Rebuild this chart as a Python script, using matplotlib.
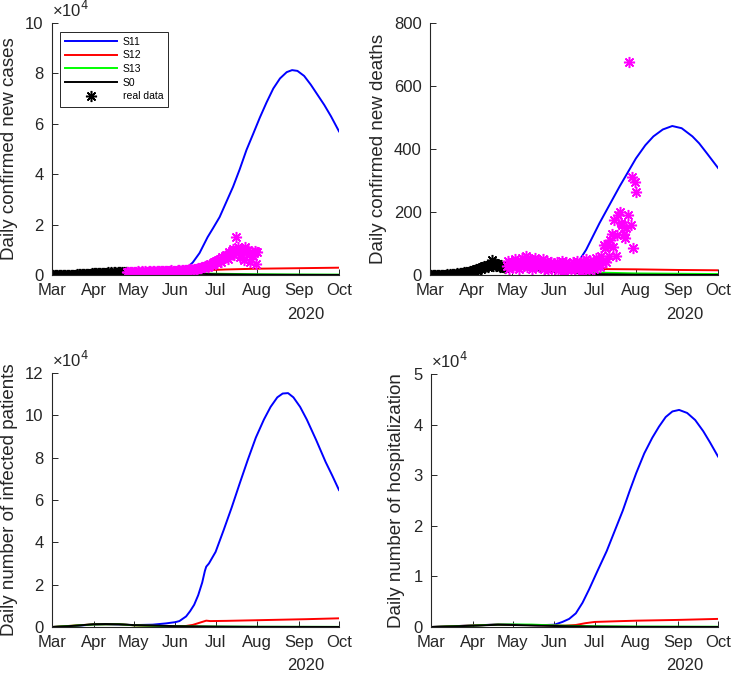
import numpy as np
import matplotlib
matplotlib.use("Agg")
import matplotlib.pyplot as plt
import matplotlib.dates as mdates
from matplotlib.ticker import FuncFormatter, MultipleLocator

plt.rcParams['font.family'] = ['Liberation Sans', 'DejaVu Sans']

START = np.datetime64('2020-03-01')
END = np.datetime64('2020-10-01')

# ---- model curves (days after 1 Mar 2020, value) ----
s11_cases_days = [0, 15, 31, 46, 61, 76, 92, 100, 105, 110, 116, 120, 125, 130, 135, 140,
                  145, 150, 155, 160, 165, 170, 175, 179, 183, 188, 193, 198, 203, 208, 214]
s11_cases = [0, 300, 700, 950, 1200, 1350, 1500, 2500, 5000, 8700, 15000, 18500, 23000, 29000,
             35000, 42000, 49600, 56000, 62500, 68500, 74000, 78000, 80500, 81300, 81000, 79000,
             75500, 71500, 67500, 63000, 57000]
s12_cases_days = [0, 31, 61, 92, 100, 108, 113, 120, 130, 153, 184, 214]
s12_cases = [0, 700, 1200, 1000, 800, 700, 1300, 2000, 2200, 2500, 2700, 2900]
s13_cases_days = [0, 31, 61, 92, 122, 153, 184, 214]
s13_cases = [0, 650, 1100, 900, 500, 300, 200, 150]
s0_cases_days = [0, 31, 61, 92, 122, 153, 184, 214]
s0_cases = [0, 700, 1000, 700, 300, 120, 60, 30]

s11_deaths_days = [0, 31, 46, 61, 92, 105, 111, 113, 116, 126, 141, 153, 160, 166, 173, 180,
                   187, 195, 200, 206, 214]
s11_deaths = [0, 10, 30, 35, 30, 35, 48, 60, 80, 165, 282, 370, 412, 440, 462, 473, 466, 440,
              418, 385, 340]
s12_deaths_days = [0, 31, 46, 61, 92, 122, 153, 184, 214]
s12_deaths = [0, 10, 30, 32, 25, 19, 18, 16, 15]
s13_deaths_days = [0, 31, 46, 61, 92, 122, 153, 214]
s13_deaths = [0, 9, 25, 25, 15, 8, 5, 3]
s0_deaths_days = [0, 31, 46, 61, 92, 122, 153, 214]
s0_deaths = [0, 9, 25, 22, 10, 3, 1, 0]

s11_inf_days = [0, 15, 31, 40, 50, 61, 75, 85, 92, 95, 100, 103, 106, 109, 112, 114, 115, 117,
                122, 128, 134, 140, 146, 152, 158, 163, 168, 172, 176, 180, 185, 190, 197, 204,
                209, 214]
s11_inf = [0, 400, 1200, 1300, 1150, 900, 1100, 1700, 2300, 2800, 5000, 7500, 10500, 15000,
           21000, 26500, 28500, 30000, 35500, 45800, 56500, 67900, 79000, 89500, 98000, 104000,
           108500, 110300, 110500, 108500, 104000, 98000, 88300, 78000, 71500, 64700]
s12_inf_days = [0, 31, 50, 61, 85, 95, 100, 105, 110, 115, 118, 130, 160, 190, 214]
s12_inf = [0, 1250, 1300, 800, 400, 400, 500, 1000, 2000, 3000, 2800, 2900, 3300, 3700, 4100]
s13_inf_days = [0, 31, 50, 61, 92, 122, 153, 214]
s13_inf = [0, 1200, 1300, 800, 350, 200, 120, 60]
s0_inf_days = [0, 15, 31, 40, 50, 61, 75, 92, 122, 153, 214]
s0_inf = [0, 500, 1300, 1400, 1300, 900, 700, 400, 200, 80, 20]

s11_hosp_days = [0, 31, 50, 61, 80, 92, 98, 103, 108, 113, 118, 124, 131, 137, 143, 148, 153,
                 159, 165, 170, 175, 180, 185, 191, 197, 203, 208, 214]
s11_hosp = [0, 300, 500, 450, 350, 450, 1000, 1600, 2700, 4800, 7500, 11000, 15000, 19000,
            23000, 26800, 30400, 34300, 37400, 39600, 41500, 42600, 42900, 42300, 40900, 38700,
            36500, 33700]
s12_hosp_days = [0, 31, 50, 61, 92, 100, 108, 115, 122, 140, 153, 184, 214]
s12_hosp = [0, 300, 480, 430, 300, 280, 400, 750, 1000, 1150, 1250, 1400, 1600]
s13_hosp_days = [0, 31, 50, 61, 75, 92, 122, 153, 214]
s13_hosp = [0, 280, 480, 500, 480, 300, 150, 90, 50]
s0_hosp_days = [0, 31, 50, 61, 92, 122, 153, 214]
s0_hosp = [0, 250, 450, 400, 200, 80, 30, 10]

# ---- real data, daily ----
cases_fit = [0, 0, 1, 2, 3, 5, 8, 10, 15, 20,
             25, 35, 50, 60, 80, 100, 120, 150, 180, 200,
             250, 280, 300, 350, 400, 420, 450, 500, 520, 560, 600,
             650, 700, 620, 750, 800, 700, 850, 900, 820, 950,
             880, 1000, 900, 1050, 950, 1100, 1000, 900, 1150, 1050,
             1000, 1100, 950, 1200, 1050]                      # 1 Mar - 25 Apr
cases_test = [1100, 1250, 1000, 1300, 1150,
              1200, 1350, 1100, 1400, 1250, 1300, 1500, 1200, 1450, 1350, 1300, 1550, 1400,
              1250, 1600, 1450, 1350, 1500, 1650, 1400, 1550, 1700, 1450, 1600, 1500, 1750,
              1550, 1650, 1800, 1600, 1700,
              1750, 1650, 1900, 1800, 1700, 2000, 1850, 1950, 2100, 1900, 2200, 2050, 2300,
              2150, 2400, 2500, 2300, 2700, 2600, 2900, 3100, 3000, 3400, 3600, 3300, 3900,
              4200, 3800, 4600, 5000,
              5500, 4800, 6000, 6500, 5200, 7000, 6800, 7500, 8000, 6500, 9000, 8500, 9500,
              10500, 8000, 15000, 10000, 11000, 7000, 9500, 10500, 6000, 11000, 9000, 10000,
              8500, 5000, 9000, 7500, 9500, 4500,
              9000]                                              # 26 Apr - 1 Aug
deaths_fit = [0, 0, 0, 0, 0, 0, 0, 0, 0, 0, 1, 0, 1, 2, 1,
              2, 3, 2, 4, 3, 5, 4, 6, 5, 7, 8, 6, 9, 10, 8, 12,
              14, 12, 16, 18, 15, 20, 22, 18, 25, 28, 24, 30, 26, 32, 35, 48, 30, 38, 28, 34,
              30, 26, 32, 24, 28, 22]                            # 1 Mar - 26 Apr
deaths_test = [30, 45, 20, 35,
               40, 25, 50, 30, 45, 20, 35, 55, 40, 30, 60, 25, 45, 50, 35, 20, 40, 55, 30, 45,
               25, 40, 35, 50, 20, 30, 45, 15, 35, 40, 25,
               30, 20, 40, 15, 35, 25, 45, 10, 30, 40, 20, 35, 25, 15, 40, 30, 20, 45, 25, 35,
               10, 30, 40, 20, 50, 30, 15, 45, 25, 35,
               20, 55, 30, 45, 25, 60, 40, 95, 85, 40, 100, 60, 110, 130, 90, 175, 60, 127,
               190, 200, 165, 160, 130, 117, 150, 190, 675, 160, 310, 85, 295,
               265]                                              # 27 Apr - 1 Aug


def to_dates(days):
    return START + np.array(days).astype('timedelta64[D]')


def daily(first_day, values):
    return to_dates(np.arange(first_day, first_day + len(values)))


def style_axes(ax, ymax, ystep, ylabel, label_x, scaled):
    ax.set_xlim(START, END)
    ax.set_ylim(0, ymax)
    ax.xaxis.set_major_locator(mdates.MonthLocator())
    ax.xaxis.set_major_formatter(mdates.DateFormatter('%b'))
    ax.yaxis.set_major_locator(MultipleLocator(ystep))
    if scaled:
        ax.yaxis.set_major_formatter(FuncFormatter(lambda v, p: f'{v / 1e4:g}'))
        ax.text(0, 1.012, '×10$^{4}$', transform=ax.transAxes, fontsize=12,
                color='#262626', ha='left', va='bottom')
    for s in ['top', 'right']:
        ax.spines[s].set_visible(False)
    for s in ['left', 'bottom']:
        ax.spines[s].set_color('#262626')
        ax.spines[s].set_linewidth(0.8)
    ax.tick_params(direction='in', length=4, width=0.7, labelsize=12,
                   colors='#262626', pad=6)
    ax.set_ylabel(ylabel, fontsize=13.5, color='#262626')
    ax.yaxis.set_label_coords(label_x, 0.5)
    ax.annotate('2020', xy=(0.883, 0), xycoords='axes fraction', xytext=(0, -39),
                textcoords='offset pixels', ha='center', va='center', fontsize=12,
                color='#262626')


def draw_models(ax, series):
    colors = ['#0000ff', '#ff0000', '#00ff00', '#000000']
    names = ['S11', 'S12', 'S13', 'S0']
    for (days, vals), c, n in zip(series, colors, names):
        ax.plot(to_dates(days), vals, color=c, lw=1.4, label=n)


fig = plt.figure(figsize=(7.33, 6.74), dpi=100)
W, H = 733, 674


def add_ax(l, t, r, b):
    return fig.add_axes([l / W, 1 - b / H, (r - l) / W, (b - t) / H])


ax1 = add_ax(52, 23, 339, 275)
ax2 = add_ax(430, 23, 718, 275)
ax3 = add_ax(52, 373, 339, 627)
ax4 = add_ax(431, 374, 718, 627)

star = dict(marker=(8, 2, 0), ms=8, mew=1.1, ls='none')

# cases
draw_models(ax1, [(s11_cases_days, s11_cases), (s12_cases_days, s12_cases),
                  (s13_cases_days, s13_cases), (s0_cases_days, s0_cases)])
ax1.plot(daily(0, cases_fit), cases_fit, color='k', label='real data', **star)
ax1.plot(daily(len(cases_fit), cases_test), cases_test, color='#ff00ff', **star)
style_axes(ax1, 100000, 20000, 'Daily confirmed new cases', -0.118, True)
leg = ax1.legend(loc='upper left', bbox_to_anchor=(0.028, 0.966), borderaxespad=0,
                 fontsize=7.5, handlelength=5, handletextpad=0.5, labelspacing=0.35,
                 fancybox=False, framealpha=1, edgecolor='#262626', borderpad=0.5)
leg.get_frame().set_linewidth(0.7)

# deaths
draw_models(ax2, [(s11_deaths_days, s11_deaths), (s12_deaths_days, s12_deaths),
                  (s13_deaths_days, s13_deaths), (s0_deaths_days, s0_deaths)])
ax2.plot(daily(0, deaths_fit), deaths_fit, color='k', **star)
ax2.plot(daily(len(deaths_fit), deaths_test), deaths_test, color='#ff00ff', **star)
style_axes(ax2, 800, 200, 'Daily confirmed new deaths', -0.149, False)

# infected
draw_models(ax3, [(s11_inf_days, s11_inf), (s12_inf_days, s12_inf),
                  (s13_inf_days, s13_inf), (s0_inf_days, s0_inf)])
style_axes(ax3, 120000, 20000, 'Daily number of infected patients', -0.118, True)

# hospitalization
draw_models(ax4, [(s11_hosp_days, s11_hosp), (s12_hosp_days, s12_hosp),
                  (s13_hosp_days, s13_hosp), (s0_hosp_days, s0_hosp)])
style_axes(ax4, 50000, 10000, 'Daily number of hospitalization', -0.0906, True)

fig.savefig('out.png', dpi=100)
